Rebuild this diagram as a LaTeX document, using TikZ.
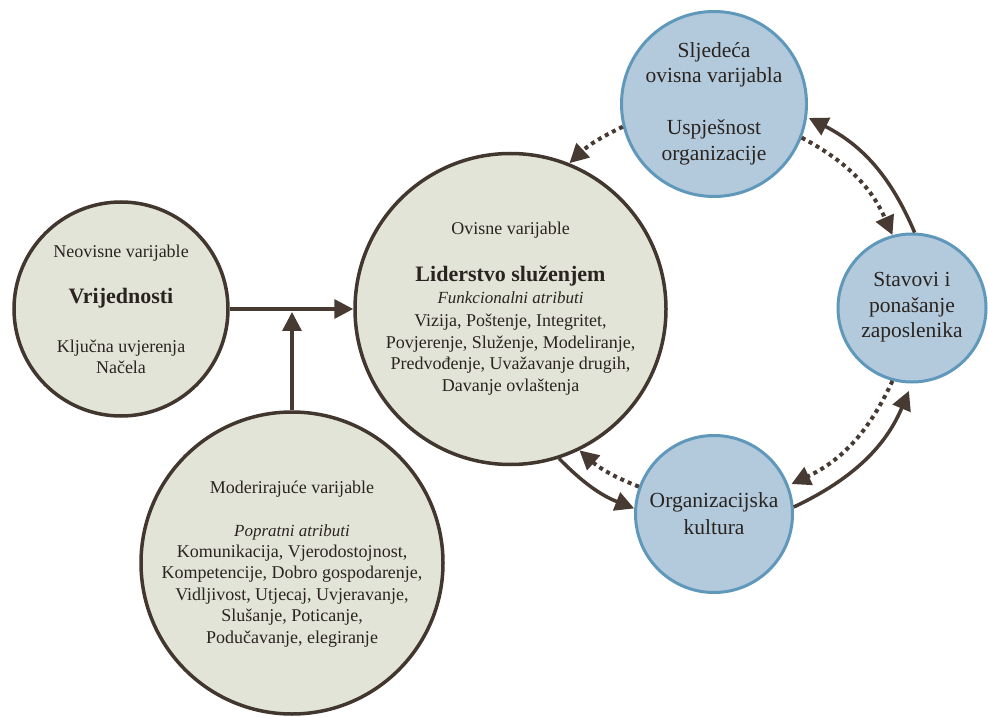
\documentclass[tikz,border=0pt]{standalone}
\usepackage{fontspec}
\setmainfont{Liberation Serif}
\usetikzlibrary{arrows.meta}
\definecolor{bfill}{HTML}{E3E4D8}
\definecolor{bstroke}{HTML}{42372F}
\definecolor{blfill}{HTML}{B3CADD}
\definecolor{blstroke}{HTML}{5F98BA}
\definecolor{arrowc}{HTML}{463A32}
\definecolor{txt}{HTML}{2A2420}
\tikzset{
  beigecirc/.style={circle, draw=bstroke, fill=bfill, line width=3.5pt, inner sep=0pt},
  bluecirc/.style={circle, draw=blstroke, fill=blfill, line width=3pt, inner sep=0pt},
  lbl/.style={anchor=base, inner sep=0pt, text=txt, font=\fontsize{18}{21.5}\selectfont},
  lblb/.style={lbl, font=\fontsize{22}{25}\selectfont\bfseries},
  lbli/.style={lbl, font=\fontsize{17}{20}\selectfont\itshape},
  lblbl/.style={lbl, font=\fontsize{21.5}{26}\selectfont},
  conn/.style={draw=arrowc, line width=3.5pt, -{Triangle[length=19pt,width=19pt]}},
  dotconn/.style={conn, line width=4pt, dash pattern=on 4pt off 4pt},
}
\begin{document}
\begin{tikzpicture}[x=1pt,y=1pt]
\useasboundingbox (0,0) rectangle (988,716);
% circles
\node[beigecirc, minimum size=214pt] (vrij) at (121,407) {};
\node[beigecirc, minimum size=311pt] (lid) at (510.5,407) {};
\node[beigecirc, minimum size=302pt] (mod) at (292,153) {};
\node[bluecirc, minimum size=185pt] (slj) at (714,612) {};
\node[bluecirc, minimum size=148pt] (stav) at (912,408) {};
\node[bluecirc, minimum size=157pt] (org) at (714,202) {};
% texts: Vrijednosti
\node[lbl] (vrij1) at (121,458) {Neovisne varijable};
\node[lblb] (vrij2) at (121,412) {Vrijednosti};
\node[lbl] (vrij3) at (121,363) {Ključna uvjerenja};
\node[lbl] (vrij4) at (121,342) {Načela};
% Liderstvo
\node[lbl] (lid1) at (510.5,481) {Ovisne varijable};
\node[lblb] (lid2) at (510.5,434) {Liderstvo služenjem};
\node[lbli] (lid3) at (510.5,412) {Funkcionalni atributi};
\node[lbl] (lid4) at (510.5,389) {Vizija, Poštenje, Integritet,};
\node[lbl] (lid5) at (510.5,367.5) {Povjerenje, Služenje, Modeliranje,};
\node[lbl] (lid6) at (510.5,346) {Predvođenje, Uvažavanje drugih,};
\node[lbl] (lid7) at (510.5,324.5) {Davanje ovlaštenja};
% Moderirajuce
\node[lbl] (mod1) at (292,223) {Moderirajuće varijable};
\node[lbli] (mod2) at (292,180) {Popratni atributi};
\node[lbl] (mod3) at (292,159) {Komunikacija, Vjerodostojnost,};
\node[lbl] (mod4) at (292,137.5) {Kompetencije, Dobro gospodarenje,};
\node[lbl] (mod5) at (292,116) {Vidljivost, Utjecaj, Uvjeravanje,};
\node[lbl] (mod6) at (292,94.5) {Slušanje, Poticanje,};
\node[lbl] (mod7) at (292,73) {Podučavanje, elegiranje};
% Sljedeca
\node[lblbl] (slj1) at (714,658) {Sljedeća};
\node[lblbl] (slj2) at (714,633) {ovisna varijabla};
\node[lblbl] (slj3) at (714,581) {Uspješnost};
\node[lblbl] (slj4) at (714,555) {organizacije};
% Stavovi
\node[lblbl] (stav1) at (912,429) {Stavovi i};
\node[lblbl] (stav2) at (912,403) {ponašanje};
\node[lblbl] (stav3) at (912,378) {zaposlenika};
% Organizacijska
\node[lblbl] (org1) at (714,209) {Organizacijska};
\node[lblbl] (org2) at (714,182) {kultura};
% connectors
\coordinate (jn) at (mod.north |- vrij.east);
\draw[conn] (vrij.east) -- (lid.west);
\draw[conn, shorten >=3pt] (mod.north) -- (jn);
\draw[conn, shorten >=2pt] (stav.88) to[bend right=20] (slj.-8);
\draw[dotconn] (slj.-21) to[bend left=19] (stav.105);
\draw[dotconn, shorten >=3pt] (stav.-105) to[bend left=20] (org.21);
\draw[conn, shorten >=8pt] (org.5) to[bend right=21] (stav.-90);
\draw[conn] (lid.-72) to[bend right=12] (org.176);
\draw[dotconn] (org.160) to[bend left=10] (lid.-64);
\draw[dotconn] (slj.194) to[bend right=9] (lid.68);
\end{tikzpicture}
\end{document}
